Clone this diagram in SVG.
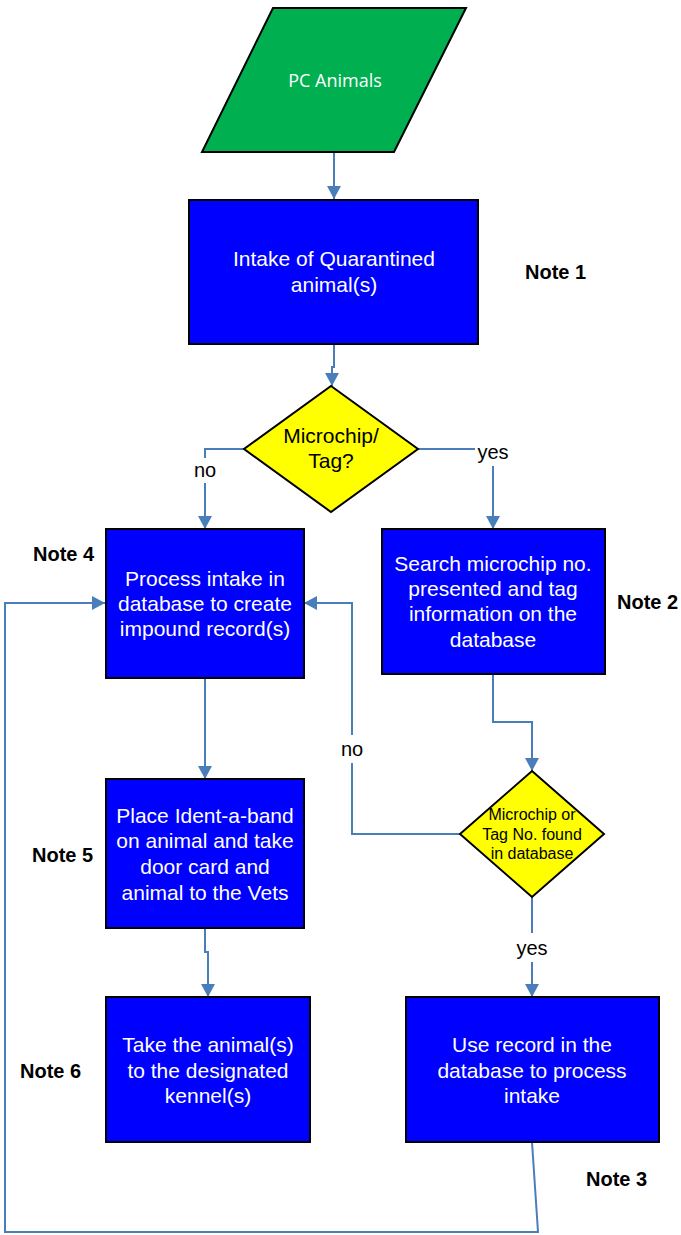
<svg xmlns="http://www.w3.org/2000/svg" width="681" height="1235" viewBox="0 0 681 1235">
<style>
.box{fill:#0000FF;stroke:#000;stroke-width:2}
.dia{fill:#FFFF00;stroke:#000;stroke-width:2}
.io{fill:#00B050;stroke:#000;stroke-width:2}
.bt{font-family:"Liberation Sans",Arial,sans-serif;font-size:21px;fill:#fff;text-anchor:middle}
.dt{font-family:"Liberation Sans",Arial,sans-serif;font-size:21px;fill:#000;text-anchor:middle}
.dt2{font-family:"Liberation Sans",Arial,sans-serif;font-size:16px;fill:#000;text-anchor:middle}
.note{font-family:"Liberation Sans",Arial,sans-serif;font-size:20px;font-weight:bold;fill:#000}
.lbl{font-family:"Liberation Sans",Arial,sans-serif;font-size:20px;fill:#000;text-anchor:middle}
.c{fill:none;stroke:#4A7EBB;stroke-width:2}
</style>
<defs>
<marker id="ah" markerUnits="userSpaceOnUse" markerWidth="13" markerHeight="14" viewBox="0 0 13 14" refX="13" refY="7" orient="auto">
<path d="M0,0 L13,7 L0,14 z" fill="#4A7EBB"/>
</marker>
</defs>
<g id="connectors">
<path class="c" d="M334,152 L334,199" marker-end="url(#ah)"/>
<path class="c" d="M334,344 L334,367 L332,367 L332,386" marker-end="url(#ah)"/>
<path class="c" d="M244,449 L205,449 L205,458"/>
<path class="c" d="M205,483 L205,529" marker-end="url(#ah)"/>
<path class="c" d="M418,449 L475,449"/>
<path class="c" d="M493,466 L493,529" marker-end="url(#ah)"/>
<path class="c" d="M493,674 L493,722 L532,722 L532,771" marker-end="url(#ah)"/>
<path class="c" d="M460,834 L352,834 L352,763"/>
<path class="c" d="M352,735 L352,603 L304,603" marker-end="url(#ah)"/>
<path class="c" d="M532,897 L532,933"/>
<path class="c" d="M532,962 L532,997" marker-end="url(#ah)"/>
<path class="c" d="M205,678 L205,779" marker-end="url(#ah)"/>
<path class="c" d="M205,928 L205,952 L208,952 L208,997" marker-end="url(#ah)"/>
<path class="c" d="M532,1142 L538,1232 L5,1232 L5,603 L105,603" marker-end="url(#ah)"/>
<text class="lbl" x="205" y="477">no</text>
<text class="lbl" x="493" y="459">yes</text>
<text class="lbl" x="352" y="756">no</text>
<text class="lbl" x="532" y="955">yes</text>
</g>
<g id="pc-animals">
<polygon class="io" points="273,8 466,8 394,152 202,152"/>
<text x="335" y="87" style="font-family:'Open Sans',sans-serif;font-size:18px;fill:#fff;text-anchor:middle">PC Animals</text>
</g>
<g id="intake">
<rect class="box" x="189" y="200" width="289" height="144"/>
<text class="bt" x="334" y="266">Intake of Quarantined</text>
<text class="bt" x="334" y="292">animal(s)</text>
</g>
<g id="note1"><text class="note" x="525" y="279">Note 1</text></g>
<g id="microchip-tag">
<polygon class="dia" points="331,386 418,449 331,512 244,449"/>
<text class="dt" x="331" y="443">Microchip/</text>
<text class="dt" x="331" y="468">Tag?</text>
</g>
<g id="process-intake">
<rect class="box" x="106" y="529" width="198" height="149"/>
<text class="bt" x="205" y="586">Process intake in</text>
<text class="bt" x="205" y="611">database to create</text>
<text class="bt" x="205" y="636">impound record(s)</text>
</g>
<g id="note4"><text class="note" x="33" y="561">Note 4</text></g>
<g id="search">
<rect class="box" x="382" y="529" width="223" height="145"/>
<text class="bt" x="493" y="571">Search microchip no.</text>
<text class="bt" x="493" y="596">presented and tag</text>
<text class="bt" x="493" y="621">information on the</text>
<text class="bt" x="493" y="647">database</text>
</g>
<g id="note2"><text class="note" x="617" y="609">Note 2</text></g>
<g id="found">
<polygon class="dia" points="532,771 604,834 532,897 460,834"/>
<text class="dt2" x="532" y="820">Microchip or</text>
<text class="dt2" x="532" y="840">Tag No. found</text>
<text class="dt2" x="532" y="859">in database</text>
</g>
<g id="ident-band">
<rect class="box" x="106" y="779" width="198" height="149"/>
<text class="bt" x="205" y="823">Place Ident-a-band</text>
<text class="bt" x="205" y="848">on animal and take</text>
<text class="bt" x="205" y="874">door card and</text>
<text class="bt" x="205" y="900">animal to the Vets</text>
</g>
<g id="note5"><text class="note" x="32" y="862">Note 5</text></g>
<g id="kennel">
<rect class="box" x="106" y="997" width="204" height="145"/>
<text class="bt" x="208" y="1052">Take the animal(s)</text>
<text class="bt" x="208" y="1078">to the designated</text>
<text class="bt" x="208" y="1103">kennel(s)</text>
</g>
<g id="note6"><text class="note" x="20" y="1078">Note 6</text></g>
<g id="use-record">
<rect class="box" x="406" y="997" width="253" height="145"/>
<text class="bt" x="532" y="1052">Use record in the</text>
<text class="bt" x="532" y="1078">database to process</text>
<text class="bt" x="532" y="1103">intake</text>
</g>
<g id="note3"><text class="note" x="586" y="1186">Note 3</text></g>
</svg>
